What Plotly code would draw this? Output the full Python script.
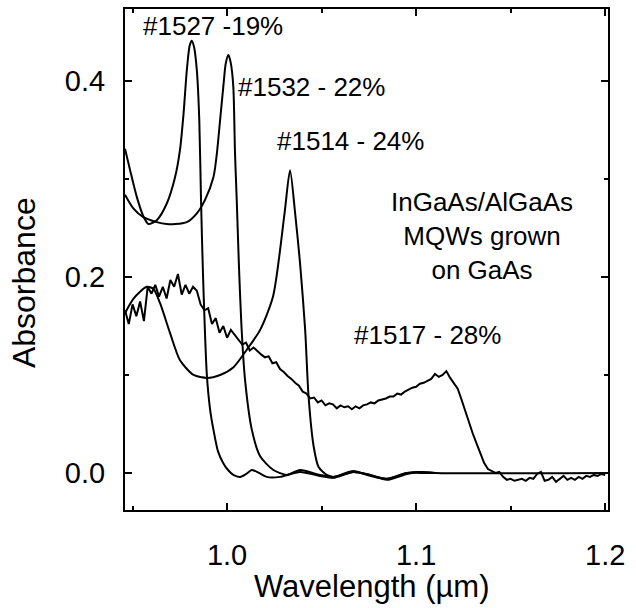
import plotly.graph_objects as go

# ---- data (wavelength in µm, absorbance) ----
x_1527 = [0.9460, 0.9487, 0.9522, 0.9557, 0.9584, 0.9628, 0.9681, 0.9725, 0.9751, 0.9769,
          0.9787, 0.9802, 0.9813, 0.9825, 0.9840, 0.9853, 0.9862, 0.9873, 0.9893, 0.9910,
          0.9928, 0.9952, 0.9980, 1.0005, 1.0033, 1.0069, 1.0101, 1.0131, 1.0169, 1.0210,
          1.0280, 1.0386, 1.0492, 1.0562, 1.0668, 1.0757, 1.0845, 1.0951, 1.1021, 1.1101]
y_1527 = [0.331, 0.309, 0.282, 0.262, 0.254, 0.258, 0.275, 0.302, 0.330, 0.365,
          0.411, 0.436, 0.441, 0.435, 0.411, 0.360, 0.280, 0.200, 0.100, 0.065,
          0.044, 0.022, 0.010, 0.003, -0.002, -0.004, -0.001, 0.003, 0.000, -0.004,
          -0.004, 0.001, -0.003, -0.005, 0.001, -0.002, -0.007, -0.001, 0.001, 0.000]

x_1532 = [0.9460, 0.9504, 0.9557, 0.9628, 0.9681, 0.9725, 0.9787, 0.9840, 0.9884, 0.9928,
          0.9946, 0.9963, 0.9980, 0.9993, 1.0007, 1.0020, 1.0033, 1.0042, 1.0051, 1.0063,
          1.0076, 1.0095, 1.0131, 1.0175, 1.0245, 1.0316, 1.0386, 1.0492, 1.0562, 1.0668,
          1.0757, 1.0845, 1.0951, 1.1021, 1.1101]
y_1532 = [0.284, 0.270, 0.261, 0.256, 0.254, 0.254, 0.256, 0.265, 0.279, 0.302,
          0.326, 0.360, 0.394, 0.418, 0.4265, 0.418, 0.394, 0.326, 0.279, 0.210,
          0.150, 0.095, 0.044, 0.017, 0.003, -0.002, 0.003, -0.002, -0.004, 0.002,
          -0.003, -0.006, 0.000, 0.000, 0.000]

x_1514 = [0.9460, 0.9505, 0.9575, 0.9610, 0.9646, 0.9698, 0.9751, 0.9823, 0.9894, 0.9963,
          1.0034, 1.0105, 1.0175, 1.0243, 1.0304, 1.0333, 1.0360, 1.0386, 1.0413, 1.0431,
          1.0458, 1.0484, 1.0527, 1.0562, 1.0668, 1.0757, 1.0845, 1.0951, 1.1021, 1.1101,
          1.2000]
y_1514 = [0.163, 0.178, 0.190, 0.188, 0.173, 0.143, 0.115, 0.100, 0.097, 0.100,
          0.108, 0.126, 0.146, 0.180, 0.265, 0.309, 0.265, 0.214, 0.146, 0.078,
          0.027, 0.006, -0.002, -0.004, 0.001, -0.002, -0.006, 0.000, 0.001, 0.000,
          0.000]

x_1517 = [0.946, 0.948, 0.950, 0.952, 0.954, 0.956, 0.958, 0.960, 0.962, 0.964,
          0.966, 0.968, 0.970, 0.972, 0.974, 0.976, 0.978, 0.980, 0.982, 0.984,
          0.986, 0.988, 0.990, 0.992, 0.994, 0.996, 0.998, 1.000, 1.002, 1.004,
          1.006, 1.008, 1.010, 1.012, 1.014, 1.016, 1.018, 1.020, 1.022, 1.024,
          1.026, 1.028, 1.030, 1.032, 1.034, 1.036, 1.038, 1.040, 1.042, 1.044,
          1.046, 1.048, 1.050, 1.052, 1.054, 1.056, 1.058, 1.060, 1.062, 1.064,
          1.066, 1.068, 1.070, 1.072, 1.074, 1.076, 1.078, 1.080, 1.082, 1.084,
          1.086, 1.088, 1.090, 1.092, 1.094, 1.096, 1.098, 1.100, 1.102, 1.104,
          1.106, 1.108, 1.110, 1.112, 1.114, 1.116, 1.118, 1.120, 1.122, 1.124,
          1.126, 1.128, 1.130, 1.132, 1.134, 1.136, 1.138, 1.140, 1.142, 1.144,
          1.146, 1.148, 1.150, 1.152, 1.154, 1.156, 1.158, 1.160, 1.162, 1.164,
          1.166, 1.168, 1.170, 1.172, 1.174, 1.176, 1.178, 1.180, 1.182, 1.184,
          1.186, 1.188, 1.190, 1.192, 1.194, 1.196, 1.198, 1.200]
y_1517 = [0.166, 0.152, 0.172, 0.160, 0.175, 0.155, 0.190, 0.183, 0.192, 0.180,
          0.190, 0.178, 0.197, 0.190, 0.203, 0.182, 0.192, 0.183, 0.190, 0.186,
          0.172, 0.166, 0.168, 0.152, 0.158, 0.143, 0.150, 0.138, 0.146, 0.141,
          0.137, 0.131, 0.133, 0.125, 0.128, 0.124, 0.121, 0.118, 0.119, 0.112,
          0.113, 0.106, 0.103, 0.099, 0.096, 0.092, 0.089, 0.083, 0.081, 0.076,
          0.077, 0.072, 0.074, 0.069, 0.071, 0.070, 0.066, 0.069, 0.067, 0.068,
          0.065, 0.068, 0.066, 0.069, 0.070, 0.072, 0.071, 0.074, 0.075, 0.076,
          0.078, 0.078, 0.081, 0.080, 0.083, 0.085, 0.087, 0.088, 0.091, 0.092,
          0.094, 0.096, 0.101, 0.098, 0.100, 0.104, 0.097, 0.092, 0.086, 0.075,
          0.063, 0.051, 0.040, 0.030, 0.020, 0.010, 0.004, 0.002, 0.000, 0.001,
          -0.004, -0.007, -0.006, -0.008, -0.007, -0.006, -0.008, -0.005, -0.006, -0.001,
          0.001, -0.008, -0.007, -0.004, -0.009, -0.006, -0.003, -0.007, -0.005, -0.007,
          -0.004, -0.006, -0.003, -0.004, -0.002, -0.003, -0.001, -0.002]

x_tickvals = [1.0, 1.1, 1.2]
x_ticktext = ["1.0", "1.1", "1.2"]
y_tickvals = [0.0, 0.2, 0.4]
y_ticktext = ["0.0", "0.2", "0.4"]

labels = ["#1527 -19%", "#1532 - 22%", "#1514 - 24%", "#1517 - 28%",
          "InGaAs/AlGaAs<br>MQWs grown<br>on GaAs"]
label_x = [0.9923, 1.0444, 1.0651, 1.1058, 1.1349]
label_y = [0.456, 0.394, 0.339, 0.1408, 0.2418]

x_title = "Wavelength (µm)"
y_title = "Absorbance"

FONT = "Liberation Sans, Arial, Helvetica, sans-serif"

fig = go.Figure()
for xs, ys, name, shape in [(x_1527, y_1527, "#1527", "spline"),
                            (x_1532, y_1532, "#1532", "spline"),
                            (x_1514, y_1514, "#1514", "spline"),
                            (x_1517, y_1517, "#1517", "linear")]:
    fig.add_trace(go.Scatter(x=xs, y=ys, mode="lines", name=name,
                             line=dict(color="black", width=2, shape=shape, smoothing=0.7),
                             showlegend=False))

for t, xx, yy in zip(labels, label_x, label_y):
    fig.add_annotation(x=xx, y=yy, xref="x", yref="y", text=t, showarrow=False,
                       font=dict(family=FONT, size=26, color="black"),
                       xanchor="center", yanchor="middle", align="center")

# axis titles (placed as in the original figure)
fig.add_annotation(x=0.5114, y=-0.152, xref="paper", yref="paper", text=x_title,
                   showarrow=False, font=dict(family=FONT, size=31, color="black"),
                   xanchor="center", yanchor="middle")
fig.add_annotation(x=-0.209, y=0.453, xref="paper", yref="paper", text=y_title,
                   showarrow=False, textangle=-90,
                   font=dict(family=FONT, size=32, color="black"),
                   xanchor="center", yanchor="middle")

axis_common = dict(showgrid=False, zeroline=False, showline=True, linecolor="black",
                   linewidth=2, mirror="allticks", ticks="inside", ticklen=7,
                   tickwidth=2, tickcolor="black",
                   tickfont=dict(family=FONT, size=29, color="black"))

fig.update_xaxes(range=[0.946, 1.2015], tickvals=x_tickvals, ticktext=x_ticktext,
                 minor=dict(dtick=0.05, tick0=0.95, ticks="inside", ticklen=4,
                            tickwidth=2, tickcolor="black"),
                 ticklabelstandoff=18, **axis_common)
fig.update_yaxes(range=[-0.0378, 0.4735], tickvals=y_tickvals, ticktext=y_ticktext,
                 minor=dict(dtick=0.1, tick0=0.0, ticks="inside", ticklen=4,
                            tickwidth=2, tickcolor="black"),
                 ticklabelstandoff=12, **axis_common)

fig.update_layout(width=636, height=608, margin=dict(l=125, r=28, t=9, b=98, autoexpand=False),
                  plot_bgcolor="white", paper_bgcolor="white",
                  font=dict(family=FONT, color="black"))

fig.write_html("out.html", config={"displayModeBar": False},
               post_script="document.body.style.margin='0px';document.body.style.overflow='hidden';")
